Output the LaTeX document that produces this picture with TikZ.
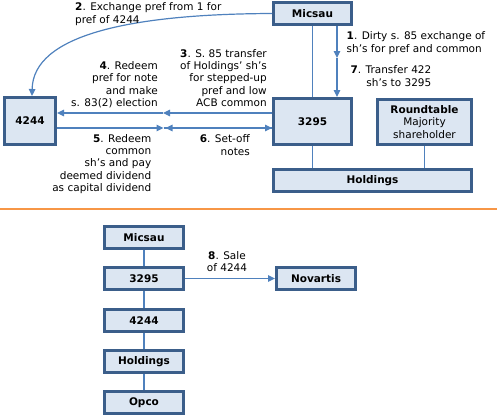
\documentclass[tikz,border=0pt]{standalone}
\usepackage{fontspec}
\setmainfont{DejaVu Sans}
\usetikzlibrary{arrows.meta, calc}
\definecolor{boxline}{RGB}{59,94,138}
\definecolor{boxfill}{RGB}{220,230,242}
\definecolor{connline}{RGB}{79,129,189}
\definecolor{divider}{RGB}{247,150,70}

\tikzset{
  ent/.style={draw=boxline, line width=3pt, fill=boxfill, inner sep=0pt, align=center,
    font=\fontsize{10.5}{12.4}\selectfont\bfseries},
  lbl/.style={inner sep=0pt, font=\fontsize{10.5}{12.4}\selectfont},
  conn/.style={draw=connline, line width=1.2pt},
}

\begin{document}
\begin{tikzpicture}[x=1pt, y=-1pt, >={Triangle[length=7pt,width=6.5pt]}]
    \useasboundingbox (0,0) rectangle (497,416);

    % before
    \node[ent, minimum width=78pt, minimum height=22pt] (Mic) at (312.5,13.5) {Micsau};
    \node[ent, minimum width=78pt, minimum height=46pt] (C3295) at (312.5,121.5) {3295};
    \node[ent, minimum width=94pt, minimum height=45pt] (Rt) at (424.5,122) {Roundtable\\\mdseries Majority\\\mdseries shareholder};
    \node[ent, minimum width=198pt, minimum height=22pt] (Hold) at (372.5,180.5) {Holdings};
    \node[ent, minimum width=51pt, minimum height=47pt] (C4244) at (30,121) {4244};

    \coordinate (m1) at (337,58);
    \coordinate (m4) at (163,113);
    \coordinate (m5) at (163.5,128);
    \coordinate (m6) at (165.5,128);

    \draw[conn] (Mic.south) -- (C3295.north);
    \draw[conn,->] (Mic.south -| m1) -- (m1);
    \draw[conn,->] (m1) -- (C3295.north -| m1);
    \draw[conn] (C3295.south) -- (C3295.south |- Hold.north);
    \draw[conn] (Rt.south) -- (Rt.south |- Hold.north);
    \draw[conn,->] (Mic.west) .. controls (130,14) and (33,35) .. ([xshift=2pt]C4244.north);
    \draw[conn,->] (C3295.west |- m4) -- (m4);
    \draw[conn,->] (m4) -- (C4244.east |- m4);
    \draw[conn,->] (C4244.east |- m5) -- (m5);
    \draw[conn,->] (m5) -- (C3295.west |- m5);
    \draw[conn,->] (C3295.west |- m6) -- (m6);

    \node[lbl, anchor=north west, align=left] (l2) at (75,2.5) {\textbf{2}. Exchange pref from 1 for\\pref of 4244};
    \node[lbl, anchor=north west, align=left] (l1) at (346.5,31.8) {\textbf{1}. Dirty s. 85 exchange of\\sh’s for pref and common};
    \node[lbl, anchor=north east, align=right] (l7) at (431.5,65.5) {\textbf{7}. Transfer 422\\sh’s to 3295};
    \node[lbl, anchor=north east, align=right] (l3) at (267,49) {\textbf{3}. S. 85 transfer\\of Holdings’ sh’s\\for stepped-up\\pref and low\\ACB common};
    \node[lbl, anchor=north east, align=right] (l4) at (158,61.3) {\textbf{4}. Redeem\\pref for note\\and make\\s. 83(2) election};
    \node[lbl, anchor=north east, align=right] (l5) at (151.5,134) {\textbf{5}. Redeem\\common\\sh’s and pay\\deemed dividend\\as capital dividend};
    \node[lbl, anchor=north east, align=right] (l6) at (250,134.5) {\textbf{6}. Set-off\\notes};

    % divider
    \draw[divider, line width=2.5pt] (0,209) -- (497,209);

    % after
    \node[ent, minimum width=79pt, minimum height=22pt] (bMic) at (144,237.5) {Micsau};
    \node[ent, minimum width=79pt, minimum height=22pt] (b3295) at (144,278.5) {3295};
    \node[ent, minimum width=79pt, minimum height=22pt] (b4244) at (144,320.5) {4244};
    \node[ent, minimum width=79pt, minimum height=22pt] (bHold) at (144,361.5) {Holdings};
    \node[ent, minimum width=79pt, minimum height=22pt] (bOpco) at (144,402.5) {Opco};
    \node[ent, minimum width=79pt, minimum height=22pt] (bNov) at (316,278.5) {Novartis};

    \draw[conn] (bMic) -- (b3295);
    \draw[conn] (b3295) -- (b4244);
    \draw[conn] (b4244) -- (bHold);
    \draw[conn] (bHold) -- (bOpco);
    \draw[conn,->] (b3295) -- (bNov);

    \node[lbl, anchor=north, align=center] (l8) at (227,251.2) {\textbf{8}. Sale\\of 4244};
\end{tikzpicture}
\end{document}
